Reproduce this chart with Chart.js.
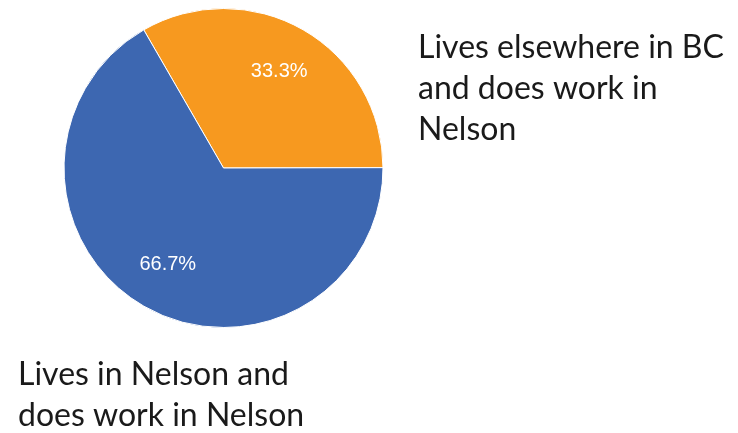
<!DOCTYPE html>
<html>
<head>
<meta charset="utf-8">
<script src="https://cdn.jsdelivr.net/npm/chart.js@4"></script>
<style>
  html, body { margin: 0; padding: 0; background: #fff; }
  #wrap { width: 738px; height: 433px; position: relative; }
</style>
</head>
<body>
<div id="wrap"><canvas id="workChart"></canvas></div>
<script>
const labels = [
    ["Lives elsewhere in BC", "and does work in", "Nelson"],
    ["Lives in Nelson and", "does work in Nelson"]
];
const shares = [33.3, 66.7];
const colors = ["#F7991F", "#3D67B1"];

// where each category's text block starts (left x, first baseline)
const labelSpots = [
    { x: 418, y: 58 },
    { x: 18, y: 385 }
];

const sliceLabels = {
    id: "sliceLabels",
    afterDatasetsDraw(chart) {
        const ctx = chart.ctx;
        const meta = chart.getDatasetMeta(0);
        const values = chart.data.datasets[0].data;

        ctx.save();
        ctx.fillStyle = "#ffffff";
        ctx.font = "20px 'Liberation Sans', Arial, sans-serif";
        ctx.textAlign = "center";
        ctx.textBaseline = "middle";
        meta.data.forEach((arc, i) => {
            const p = arc.getProps(["x", "y", "startAngle", "endAngle", "outerRadius"], true);
            const mid = (p.startAngle + p.endAngle) / 2;
            const r = p.outerRadius * 0.7;
            ctx.fillText(values[i].toFixed(1) + "%", p.x + Math.cos(mid) * r, p.y + Math.sin(mid) * r);
        });

        ctx.fillStyle = "#1a1a1a";
        ctx.font = "32px Lato, 'Open Sans', sans-serif";
        ctx.textAlign = "left";
        ctx.textBaseline = "alphabetic";
        chart.data.labels.forEach((lines, i) => {
            lines.forEach((line, j) => {
                ctx.fillText(line, labelSpots[i].x, labelSpots[i].y + j * 41);
            });
        });
        ctx.restore();
    }
};

new Chart(document.getElementById("workChart"), {
    type: "pie",
    data: {
        labels: labels,
        datasets: [{
            data: shares,
            backgroundColor: colors,
            borderColor: "#ffffff",
            borderWidth: 1
        }]
    },
    options: {
        responsive: true,
        maintainAspectRatio: false,
        animation: false,
        rotation: -30,
        layout: {
            padding: { left: 63, right: 354, top: 8, bottom: 105 }
        },
        plugins: {
            legend: { display: false },
            tooltip: { enabled: false }
        }
    },
    plugins: [sliceLabels]
});
</script>
</body>
</html>
